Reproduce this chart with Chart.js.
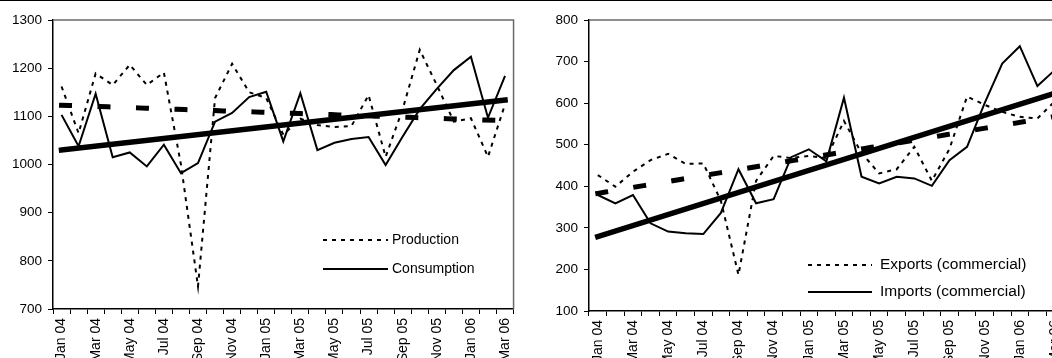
<!DOCTYPE html>
<html>
<head>
<meta charset="utf-8">
<script src="https://cdn.jsdelivr.net/npm/chart.js@4.4.1/dist/chart.umd.min.js"></script>
<style>
  html, body { margin: 0; padding: 0; background: #fff; overflow: hidden; width: 1052px; height: 358px; }
  #topRule { position: absolute; left: 0; top: 0; width: 1052px; height: 1px; background: #000; z-index: 2; }
  #left { position: absolute; left: 0; top: 0; }
  #right { position: absolute; left: 526px; top: 0; }
</style>
</head>
<body>
<div id="topRule"></div>
<canvas id="left" width="526" height="358"></canvas>
<canvas id="right" width="550" height="358"></canvas>
<script>
// Monthly categories, Jan 2004 – Mar 2006
const months = [
  'Jan 04','Feb 04','Mar 04','Apr 04','May 04','Jun 04','Jul 04','Aug 04','Sep 04','Oct 04','Nov 04','Dec 04',
  'Jan 05','Feb 05','Mar 05','Apr 05','May 05','Jun 05','Jul 05','Aug 05','Sep 05','Oct 05','Nov 05','Dec 05',
  'Jan 06','Feb 06','Mar 06'
];

// Left panel: production vs consumption
const production  = [1162,1065,1189,1165,1207,1165,1191,1000,747,1138,1209,1150,1138,1062,1095,1082,1078,1080,1144,1016,1115,1238,1165,1089,1096,1016,1125];
const consumption = [1103,1038,1147,1015,1025,996,1041,982,1003,1089,1107,1140,1151,1048,1148,1030,1045,1053,1057,999,1058,1115,1157,1196,1224,1097,1184];
const productionTrend  = [1123, 1091];   // first month, last month
const consumptionTrend = [1030, 1134];

// Right panel: commercial exports vs imports
const exportsCom = [427,399,435,463,478,454,455,365,187,413,473,468,473,468,557,480,431,441,495,413,490,616,596,579,567,563,605];
const importsCom = [379,359,379,311,291,287,285,336,441,359,369,470,489,460,613,423,407,423,419,401,463,495,600,695,737,641,680];
const exportsTrend = [383, 568];
const importsTrend = [279, 624];

const FONT = "'Liberation Sans', Arial, sans-serif";

// Grey top/right frame of the plot area
const framePlugin = {
  id: 'frame',
  beforeDatasetsDraw(chart) {
    const { ctx, chartArea: a } = chart;
    ctx.save();
    ctx.strokeStyle = '#6a6a6a';
    ctx.lineWidth = 1.5;
    ctx.beginPath();
    ctx.moveTo(a.left, a.top);
    ctx.lineTo(a.right, a.top);
    ctx.lineTo(a.right, a.bottom);
    ctx.stroke();
    ctx.restore();
  }
};

// Borderless legend drawn inside the plot area
const insetLegend = {
  id: 'insetLegend',
  afterDatasetsDraw(chart, args, opts) {
    const { ctx } = chart;
    ctx.save();
    chart.data.datasets.forEach(ds => {
      if (ds.legendRow === undefined) return;
      const y = opts.rows[ds.legendRow];
      ctx.strokeStyle = ds.borderColor;
      ctx.lineWidth = ds.borderWidth;
      ctx.setLineDash(ds.borderDash || []);
      ctx.lineCap = 'butt';
      ctx.beginPath();
      ctx.moveTo(opts.x0, y);
      ctx.lineTo(opts.x1, y);
      ctx.stroke();
      ctx.setLineDash([]);
      ctx.fillStyle = '#000';
      ctx.font = opts.fontSize + 'px ' + FONT;
      ctx.textBaseline = 'middle';
      ctx.textAlign = 'left';
      ctx.fillText(ds.label, opts.textX, y);
    });
    ctx.restore();
  }
};

function seriesLine(label, data, dashed, row) {
  return {
    label, data,
    borderColor: '#000', borderWidth: 2,
    borderDash: dashed ? [4, 5] : [],
    pointRadius: 0, tension: 0, fill: false,
    legendRow: row, order: 2
  };
}

function trendLine(label, ends, dashed) {
  return {
    label,
    data: [{ x: months[0], y: ends[0] }, { x: months[months.length - 1], y: ends[1] }],
    borderColor: '#000',
    borderWidth: dashed ? 5 : 5.5,
    borderDash: dashed ? [8, 30.5] : [],
    borderCapStyle: 'square',
    pointRadius: 0, tension: 0, fill: false, order: 1
  };
}

function buildChart(id, datasets, yMin, yMax, yWidth, xHeight, pad, legendOpts) {
  return new Chart(document.getElementById(id), {
    type: 'line',
    data: { labels: months, datasets },
    plugins: [framePlugin, insetLegend],
    options: {
      responsive: false,
      animation: false,
      devicePixelRatio: 1,
      events: [],
      layout: { padding: pad },
      plugins: {
        legend: { display: false },
        tooltip: { enabled: false },
        insetLegend: legendOpts
      },
      scales: {
        x: {
          type: 'category',
          offset: true,
          grid: { offset: true, drawOnChartArea: false, drawTicks: true, tickLength: 5, color: '#000', lineWidth: 1 },
          border: { color: '#000', width: 1.5 },
          ticks: {
            autoSkip: false, minRotation: 90, maxRotation: 90, padding: 4,
            color: '#000', font: { family: FONT, size: 14 },
            callback: (v, i) => (i % 2 === 0 ? months[i] : '')
          },
          afterFit: s => { s.height = xHeight; }
        },
        y: {
          min: yMin, max: yMax,
          grid: { drawOnChartArea: false, drawTicks: true, tickLength: 5, color: '#000', lineWidth: 1 },
          border: { color: '#000', width: 1.5 },
          ticks: {
            stepSize: 100, padding: 6, color: '#000', font: { family: FONT, size: 13.5 },
            callback: v => String(v)
          },
          afterFit: s => { s.width = yWidth; }
        }
      }
    }
  });
}

buildChart('left', [
  seriesLine('Production', production, true, 0),
  seriesLine('Consumption', consumption, false, 1),
  trendLine('Production trend', productionTrend, true),
  trendLine('Consumption trend', consumptionTrend, false)
], 700, 1300, 53, 49, { top: 20, right: 9, left: 0, bottom: 0 },
  { x0: 323, x1: 388, textX: 392, rows: [240, 269], fontSize: 14 });

buildChart('right', [
  seriesLine('Exports (commercial)', exportsCom, true, 0),
  seriesLine('Imports (commercial)', importsCom, false, 1),
  trendLine('Exports trend', exportsTrend, true),
  trendLine('Imports trend', importsTrend, false)
], 100, 800, 63, 47, { top: 20, right: 12, left: 0, bottom: 0 },
  { x0: 282, x1: 346, textX: 354, rows: [265, 292], fontSize: 15.5 });
</script>
</body>
</html>
